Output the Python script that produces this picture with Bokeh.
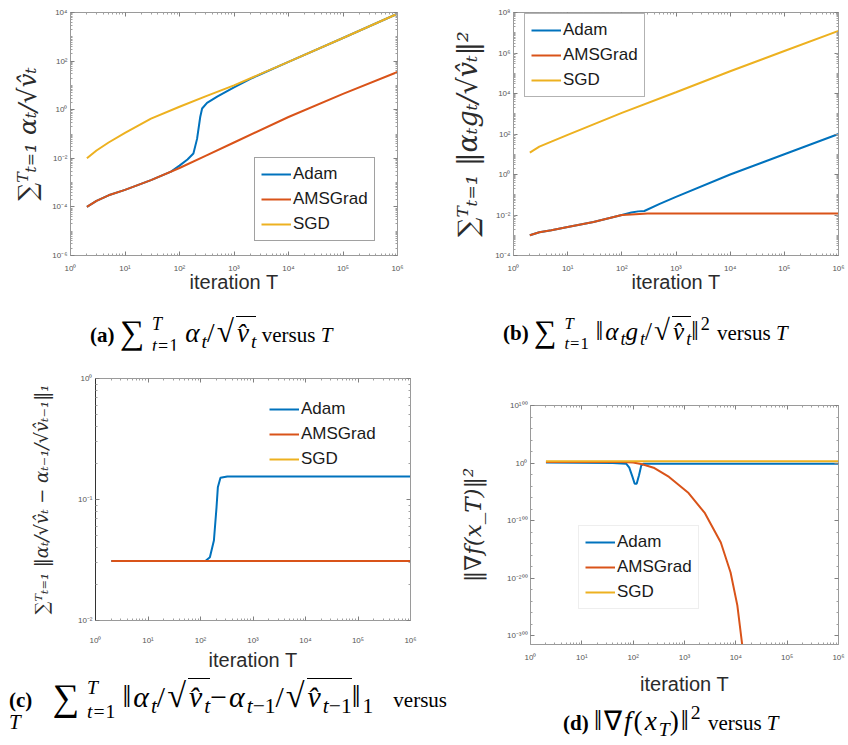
import numpy as np
from bokeh.plotting import figure
from bokeh.models import (Range1d, FixedTicker, LogAxis, LinearAxis, Legend, LegendItem, Div,
                          CustomJSTickFormatter)
from bokeh.layouts import column, row
from bokeh.embed import file_html
from bokeh.resources import INLINE

SERIES = ["Adam", "AMSGrad", "SGD"]
COLORS = ["#0072BD", "#D95319", "#EDB120"]

# ---------------- data ----------------
# (a) sum alpha_t / sqrt(v_t)
a_adam_T = [2, 3, 5, 10, 30, 70, 100, 140, 180, 210, 240, 260, 320, 500, 1000, 2000, 3000, 1e4, 1e5, 1e6]
a_adam_y = [1.0e-4, 1.78e-4, 3.0e-4, 5.0e-4, 1.26e-3, 2.82e-3, 5.0e-3, 8.9e-3, 1.58e-2, 6.3e-2,
            0.5, 1.12, 1.9, 3.55, 8.3, 18.6, 28, 93, 891, 8910]
a_ams_T = [2, 3, 5, 10, 30, 100, 300, 1000, 1e4, 1e5, 1e6]
a_ams_y = [1.0e-4, 1.78e-4, 3.0e-4, 5.0e-4, 1.26e-3, 3.98e-3, 1.26e-2, 4.47e-2, 0.5, 4.47, 35.5]
a_sgd_T = [2, 3, 5, 10, 30, 100, 300, 1000, 1e4, 1e5, 1e6]
a_sgd_y = [1.0e-2, 2.09e-2, 4.47e-2, 0.112, 0.427, 1.32, 3.55, 10, 93, 891, 8910]

# (b) sum ||alpha_t g_t / sqrt(v_t)||^2
b_adam_T = [2, 3, 5, 10, 30, 100, 150, 200, 260, 500, 1000, 1e4, 1e5, 1e6]
b_adam_y = [1.0e-3, 1.41e-3, 1.78e-3, 2.57e-3, 4.47e-3, 1.0e-2, 1.32e-2, 1.51e-2, 1.58e-2,
            3.55e-2, 7.9e-2, 1.0, 10, 100]
b_ams_T = [2, 3, 5, 10, 30, 100, 150, 300, 1000, 1e6]
b_ams_y = [1.0e-3, 1.41e-3, 1.78e-3, 2.57e-3, 4.47e-3, 1.0e-2, 1.07e-2, 1.17e-2, 1.17e-2, 1.17e-2]
b_sgd_T = [2, 3, 5, 10, 100, 1000, 1e4, 1e5, 1e6]
b_sgd_y = [12, 24, 42, 91, 1100, 1.15e4, 1.26e5, 1.26e6, 1.23e7]

# (c) sum ||alpha_t/sqrt(v_t) - alpha_{t-1}/sqrt(v_{t-1})||_1   (SGD is zero: not drawn on log axis)
c_adam_T = [2, 124, 151, 180, 202, 214, 240, 324, 1e6]
c_adam_y = [0.031, 0.031, 0.0333, 0.0458, 0.0863, 0.126, 0.151, 0.155, 0.155]
c_ams_T = [2, 1e6]
c_ams_y = [0.031, 0.031]
c_sgd_T = [2, 1e6]
c_sgd_y = [0.0, 0.0]

# (d) ||grad f(x_T)||^2  (spans ~400 decades)
d_adam_T = [2, 40, 73, 84, 97, 107, 117, 130, 144, 161, 1e6]
d_adam_y = [1e1, 1e0, 1e-1, 1e-8, 1e-24, 1e-36, 1e-36, 1e-21, 1e-4, 1e-1, 1e-1]
d_ams_T = [2, 60, 100, 150, 250, 500, 1200, 2500, 5100, 7900, 10700, 13500]
d_ams_y = [1e2, 1e2, 1e1, 1e-2, 1e-8, 1e-24, 1e-52, 1e-87, 1e-138, 1e-190, 1e-247, 1e-320]
d_sgd_T = [2, 1e6]
d_sgd_y = [1e3, 1e3]

X_MAJOR_EXP = [0, 1, 2, 3, 4, 5, 6]
A_Y_EXP = [-6, -4, -2, 0, 2, 4]
B_Y_EXP = [-4, -2, 0, 2, 4, 6, 8]
C_Y_EXP = [-2, -1, 0]
D_Y_EXP = [-300, -200, -100, 0, 100]

Y_LABELS = {
    "a": "\u2211\u1d40\u209c\u208c\u2081 \u03b1\u209c/\u221av\u0302\u209c",
    "b": "\u2211\u1d40\u209c\u208c\u2081 \u2016\u03b1\u209cg\u209c/\u221av\u0302\u209c\u2016\u00b2",
    "c": "\u2211\u1d40\u209c\u208c\u2081 \u2016\u03b1\u209c/\u221av\u0302\u209c \u2212 \u03b1\u209c\u208b\u2081/\u221av\u0302\u209c\u208b\u2081\u2016\u2081",
    "d": "\u2016\u2207f(x_T)\u2016\u00b2",
}

# ---------------- caption markup (real text, HTML sub/superscripts) ----------------
SUB = '<span style="font-size:0.72em;vertical-align:-0.3em;line-height:0;letter-spacing:0">%s</span>'
SUP2 = '<span style="font-size:0.72em;vertical-align:0.55em;line-height:0">2</span>'
SUM = ('<span style="font-size:1.25em;line-height:0;position:relative;top:0.08em">\u2211</span>'
       '<span style="display:inline-block;vertical-align:-0.55em;line-height:1.2;font-size:0.66em;'
       'margin-left:6px;margin-right:6px;text-align:left;letter-spacing:1px"><i>T</i><br><i>t</i>=1</span>')
NORM = '<span style="font-size:1.05em;line-height:0">\u2016</span>'


def math(s, scale=1.2):
    return '<span style="font-size:%.2fem;letter-spacing:2px">%s</span>' % (scale, s)


def sqrt_v(sub):
    return ('<span style="font-size:1.15em;line-height:0">\u221a</span><span style="border-top:1px solid black;'
            'padding-top:1px;padding-left:1px"><i>v\u0302</i>' + SUB % sub + '</span>')


T_ = "<i>t</i>"
CAPTIONS = {
    "a": ["<b>(a)</b> " + math(SUM + "<i>\u03b1</i>" + SUB % T_ + "/" + sqrt_v(T_), scale=1.3)
          + " versus <i>T</i>"],
    "b": ["<b>(b)</b> " + math(SUM + NORM + "<i>\u03b1</i>" + SUB % T_ + "<i>g</i>" + SUB % T_ + "/"
                               + sqrt_v(T_) + NORM + SUP2) + " versus <i>T</i>"],
    "c": ["<b>(c)</b> " + math(SUM + NORM + "<i>\u03b1</i>" + SUB % T_ + "/" + sqrt_v(T_)
                               + "\u2212<i>\u03b1</i>" + SUB % (T_ + "\u22121") + "/"
                               + sqrt_v(T_ + "\u22121") + NORM + SUB % "1", scale=1.42) + " versus",
          "<i>T</i>"],
    "d": ["<b>(d)</b> " + math(NORM + "\u2207<i>f</i>(<i>x</i>" + SUB % "<i>T</i>" + ")" + NORM + SUP2, scale=1.3)
          + " versus <i>T</i>"],
}

SUP_JS = """
const sup = {'0':'\u2070','1':'\u00b9','2':'\u00b2','3':'\u00b3','4':'\u2074','5':'\u2075',
             '6':'\u2076','7':'\u2077','8':'\u2078','9':'\u2079','-':'\u207b'};
"""
FMT_LOG = SUP_JS + """
const e = Math.round(Math.log10(tick));
return '10' + String(e).split('').map(c => sup[c]).join('');
"""
FMT_EXP = SUP_JS + """
const e = Math.round(tick);
return '10' + String(e).split('').map(c => sup[c]).join('');
"""


def log_ticker(exps):
    major = [10.0 ** k for k in exps]
    lo, hi = min(exps), max(exps)
    minor = [m * 10.0 ** k for k in range(lo, hi) for m in range(1, 10) if not (m == 1 and k in exps)]
    return FixedTicker(ticks=major, minor_ticks=minor)


def exp_ticker(exps, step):
    hi = max(exps)
    minor = [float(k) for k in range(-320, hi + 1, step) if k not in exps]
    return FixedTicker(ticks=[float(k) for k in exps], minor_ticks=minor)


def style_axis(ax, fmt=None, line_color="#9a9a9a"):
    ax.axis_line_color = line_color
    ax.axis_line_width = 1
    ax.major_tick_in = 4
    ax.major_tick_out = 0
    ax.minor_tick_in = 2
    ax.minor_tick_out = 0
    ax.major_tick_line_color = "#808080"
    ax.minor_tick_line_color = "#a0a0a0"
    if fmt is not None:
        ax.formatter = CustomJSTickFormatter(code=fmt)
        ax.major_label_text_font = "Liberation Sans"
        ax.major_label_text_font_size = "8px"
        ax.major_label_text_color = "#555555"
    else:
        ax.formatter = CustomJSTickFormatter(code="return '';")
        ax.major_label_text_font_size = "0px"
        ax.major_label_standoff = 0


def make_panel(key, width, height, borders, yrange, yticker, series, legend_loc,
               legend_border, ylab_size, ylab_standoff, xtick_standoff, xlab_standoff,
               left_line="#9a9a9a", exp_axis=False):
    left, right, top, bottom = borders
    p = figure(width=width, height=height, x_axis_type="log",
               y_axis_type="linear" if exp_axis else "log",
               x_range=Range1d(1, 1e6), y_range=Range1d(*yrange),
               output_backend="svg", toolbar_location=None,
               min_border_left=left, min_border_right=right,
               min_border_top=top, min_border_bottom=bottom)
    p.grid.visible = False
    p.outline_line_color = None
    p.background_fill_color = "white"
    p.border_fill_color = "white"

    xa = p.xaxis[0]
    xa.ticker = log_ticker(X_MAJOR_EXP)
    style_axis(xa, FMT_LOG)
    xa.major_label_standoff = xtick_standoff
    xa.axis_label = "iteration T"
    xa.axis_label_text_font = "Liberation Sans"
    xa.axis_label_text_font_size = "20px"
    xa.axis_label_text_font_style = "normal"
    xa.axis_label_text_color = "#2b2b2b"
    xa.axis_label_standoff = xlab_standoff

    ya = p.yaxis[0]
    ya.ticker = yticker
    style_axis(ya, FMT_EXP if exp_axis else FMT_LOG, line_color=left_line)
    ya.major_label_standoff = 3
    ya.axis_label = Y_LABELS[key]
    ya.axis_label_text_font = "DejaVu Serif"
    ya.axis_label_text_font_size = ylab_size
    ya.axis_label_text_font_style = "italic"
    ya.axis_label_text_color = "#2b2b2b"
    ya.axis_label_standoff = ylab_standoff

    top_ax = LogAxis(ticker=log_ticker(X_MAJOR_EXP))
    style_axis(top_ax)
    p.add_layout(top_ax, "above")
    right_ax = (LinearAxis if exp_axis else LogAxis)(ticker=yticker)
    style_axis(right_ax)
    p.add_layout(right_ax, "right")

    rends = []
    for (T, y), color in zip(series, COLORS):
        rends.append(p.line(T, y, line_color=color, line_width=2))

    items = [LegendItem(label=n, renderers=[r]) for n, r in zip(SERIES, rends)]
    lg = Legend(items=items, location=legend_loc,
                label_text_font="Liberation Sans", label_text_font_size="17px",
                label_text_color="#1a1a1a", glyph_width=30, glyph_height=20,
                label_height=20, label_standoff=2, spacing=5, padding=6, margin=0,
                background_fill_color="white", background_fill_alpha=1.0)
    if legend_border is None:
        lg.border_line_color = None
    else:
        lg.border_line_color = legend_border
        lg.border_line_width = 1
    p.add_layout(lg)
    return p


def caption_div(key, width, height, left, top, justify_width=None):
    lines = CAPTIONS[key]
    parts = []
    for i, ln in enumerate(lines):
        extra = ""
        if justify_width is not None and i == 0:
            extra = "width:%dpx;text-align:justify;text-align-last:justify;" % justify_width
        if i > 0:
            extra += "margin-top:3px;"
        parts.append('<div style="height:29px;line-height:29px;white-space:nowrap;%s">%s</div>'
                     % (extra, ln))
    html = ('<div style="padding-left:%dpx;padding-top:%dpx;'
            'font-family:\'Liberation Serif\',serif;font-size:21px;color:black">%s</div>'
            % (left, top, "".join(parts)))
    return Div(text=html, width=width, height=height, margin=0)


pa = make_panel("a", 430, 300, (70, 33, 12, 45), (1e-6, 1e4), log_ticker(A_Y_EXP),
                [(a_adam_T, a_adam_y), (a_ams_T, a_ams_y), (a_sgd_T, a_sgd_y)],
                (184, 14), "#444444", "25px", 7, 8, -5)
cap_a = caption_div("a", 430, 50, 90, 14)

pb = make_panel("b", 418, 300, (83, 10, 12, 45), (1e-4, 1e8), log_ticker(B_Y_EXP),
                [(b_adam_T, b_adam_y), (b_ams_T, b_ams_y), (b_sgd_T, b_sgd_y)],
                (11, 158), "#666666", "27px", 9, 8, -5)
cap_b = caption_div("b", 418, 50, 73, 14)

pc = make_panel("c", 456, 325, (95, 46, 28, 55), (1e-2, 1e0), log_ticker(C_Y_EXP),
                [(c_adam_T, c_adam_y), (c_ams_T, c_ams_y), (c_sgd_T, c_sgd_y)],
                (174, 151), None, "18px", 23, 15, 1, left_line="#333333")
cap_c = caption_div("c", 456, 70, 9, 1, justify_width=438)

d_series = [(d_adam_T, list(np.log10(d_adam_y))), (d_ams_T, list(np.log10(d_ams_y))),
            (d_sgd_T, list(np.log10(d_sgd_y)))]
pd_ = make_panel("d", 392, 347, (63, 10, 55, 50), (-315, 100), exp_ticker(D_Y_EXP, 20),
                 d_series, (48, 35), "#dddddd", "23px", 18, 8, 8, exp_axis=True)
cap_d = caption_div("d", 392, 48, 107, 10)

layout = column(row(column(pa, cap_a), column(pb, cap_b)),
                row(column(pc, cap_c), column(pd_, cap_d)))

with open("out.html", "w") as f:
    f.write(file_html(layout, INLINE))
